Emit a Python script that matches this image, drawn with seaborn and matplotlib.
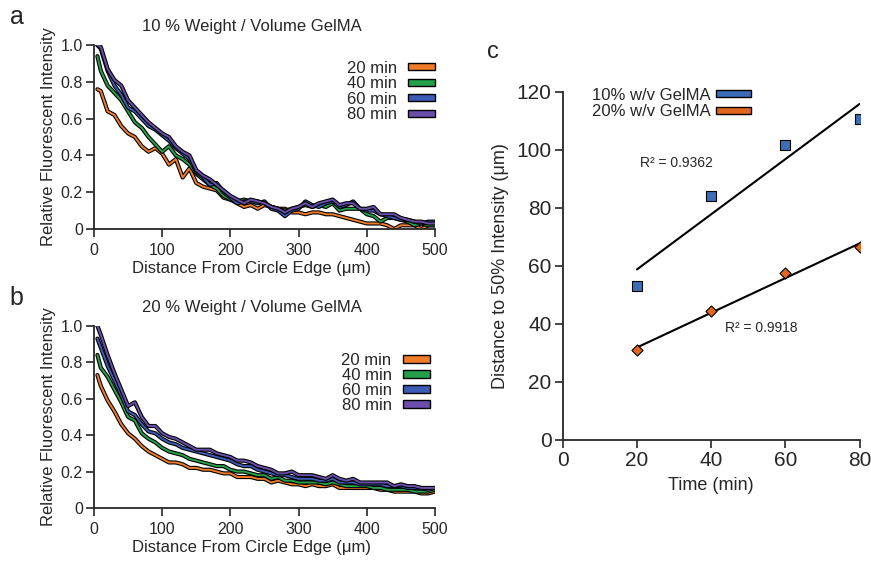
import numpy as np
import pandas as pd
import matplotlib
matplotlib.use("Agg")
import matplotlib.pyplot as plt
import matplotlib.patheffects as pe
from matplotlib.patches import Patch
import seaborn as sns

sns.set_style("ticks")
plt.rcParams['font.family'] = ['Liberation Sans', 'DejaVu Sans']

# distance from circle edge (um)
dist = [5] + list(range(10, 510, 10))
times = ["20 min", "40 min", "60 min", "80 min"]
line_colors = ["#F07C28", "#25A04A", "#3B5BB5", "#6A4FAA"]

# 10 % w/v GelMA
a_20 = [0.76, 0.75, 0.64, 0.62, 0.56, 0.52, 0.50, 0.45, 0.42, 0.44, 0.41, 0.35, 0.38, 0.28, 0.33,
        0.25, 0.23, 0.22, 0.21, 0.17, 0.16, 0.14, 0.12, 0.13, 0.11, 0.13, 0.12, 0.11, 0.11, 0.09,
        0.09, 0.08, 0.09, 0.09, 0.08, 0.08, 0.07, 0.06, 0.05, 0.04, 0.03, 0.03, 0.03, 0.02, 0.00,
        0.02, 0.02, 0.02, 0.00, 0.02, 0.02]
a_40 = [0.94, 0.86, 0.78, 0.74, 0.70, 0.64, 0.58, 0.55, 0.50, 0.46, 0.42, 0.45, 0.40, 0.38, 0.35,
        0.30, 0.27, 0.24, 0.22, 0.18, 0.16, 0.15, 0.16, 0.15, 0.15, 0.14, 0.12, 0.11, 0.10, 0.11,
        0.12, 0.13, 0.12, 0.13, 0.12, 0.14, 0.10, 0.11, 0.11, 0.11, 0.08, 0.07, 0.04, 0.06, 0.06,
        0.05, 0.04, 0.02, 0.03, 0.02, 0.02]
a_60 = [1.00, 0.98, 0.86, 0.78, 0.73, 0.66, 0.64, 0.60, 0.56, 0.54, 0.51, 0.48, 0.44, 0.41, 0.38,
        0.31, 0.28, 0.24, 0.25, 0.20, 0.17, 0.14, 0.15, 0.15, 0.14, 0.15, 0.11, 0.10, 0.07, 0.10,
        0.11, 0.15, 0.13, 0.12, 0.14, 0.15, 0.12, 0.13, 0.15, 0.11, 0.10, 0.10, 0.08, 0.07, 0.06,
        0.05, 0.05, 0.04, 0.03, 0.04, 0.04]
a_80 = [1.00, 0.99, 0.87, 0.81, 0.78, 0.70, 0.66, 0.62, 0.58, 0.55, 0.52, 0.50, 0.45, 0.42, 0.40,
        0.32, 0.29, 0.27, 0.24, 0.21, 0.18, 0.16, 0.14, 0.16, 0.15, 0.14, 0.12, 0.11, 0.09, 0.11,
        0.12, 0.14, 0.12, 0.14, 0.15, 0.16, 0.13, 0.14, 0.14, 0.11, 0.11, 0.12, 0.08, 0.08, 0.08,
        0.06, 0.05, 0.04, 0.04, 0.03, 0.03]

# 20 % w/v GelMA
b_20 = [0.73, 0.67, 0.59, 0.53, 0.46, 0.41, 0.38, 0.34, 0.31, 0.29, 0.27, 0.25, 0.25, 0.24, 0.22,
        0.22, 0.21, 0.21, 0.20, 0.19, 0.19, 0.17, 0.17, 0.17, 0.16, 0.16, 0.14, 0.15, 0.14, 0.13,
        0.13, 0.12, 0.13, 0.12, 0.12, 0.13, 0.11, 0.11, 0.11, 0.11, 0.11, 0.11, 0.10, 0.10, 0.09,
        0.09, 0.09, 0.09, 0.08, 0.08, 0.09]
b_40 = [0.84, 0.77, 0.72, 0.65, 0.58, 0.50, 0.48, 0.41, 0.38, 0.36, 0.33, 0.31, 0.30, 0.29, 0.27,
        0.26, 0.25, 0.24, 0.23, 0.23, 0.21, 0.20, 0.20, 0.19, 0.18, 0.18, 0.16, 0.17, 0.15, 0.15,
        0.14, 0.14, 0.14, 0.14, 0.13, 0.14, 0.13, 0.12, 0.12, 0.12, 0.12, 0.11, 0.11, 0.10, 0.10,
        0.10, 0.10, 0.09, 0.09, 0.09, 0.10]
b_60 = [0.93, 0.88, 0.78, 0.70, 0.62, 0.53, 0.51, 0.46, 0.42, 0.41, 0.38, 0.36, 0.35, 0.33, 0.32,
        0.31, 0.30, 0.29, 0.28, 0.27, 0.26, 0.24, 0.23, 0.23, 0.21, 0.20, 0.19, 0.18, 0.18, 0.17,
        0.16, 0.16, 0.16, 0.15, 0.15, 0.16, 0.14, 0.14, 0.14, 0.13, 0.13, 0.13, 0.13, 0.12, 0.12,
        0.12, 0.11, 0.11, 0.11, 0.10, 0.11]
b_80 = [1.00, 0.95, 0.84, 0.74, 0.65, 0.56, 0.58, 0.50, 0.45, 0.45, 0.41, 0.39, 0.38, 0.36, 0.34,
        0.32, 0.32, 0.32, 0.30, 0.29, 0.28, 0.26, 0.26, 0.25, 0.23, 0.22, 0.21, 0.19, 0.19, 0.20,
        0.18, 0.18, 0.18, 0.17, 0.16, 0.18, 0.16, 0.15, 0.16, 0.14, 0.14, 0.14, 0.14, 0.14, 0.12,
        0.13, 0.12, 0.12, 0.11, 0.11, 0.11]

# panel c
time_min = [20, 40, 60, 80]
d50_10 = [53, 84, 101.8, 110.5]
d50_20 = [31, 44.3, 57.5, 66.5]
r2_labels = ["R\u00b2 = 0.9362", "R\u00b2 = 0.9918"]


def profile_df(series):
    rows = []
    for t, vals in zip(times, series):
        for d, v in zip(dist, vals):
            rows.append({"dist": d, "val": v, "time": t})
    return pd.DataFrame(rows)


fig = plt.figure(figsize=(8.71, 5.64), dpi=100)
ax_a = fig.add_axes([0.1079, 0.594, 0.3915, 0.326])
ax_b = fig.add_axes([0.1079, 0.0993, 0.3915, 0.323])
ax_c = fig.add_axes([0.646, 0.220, 0.341, 0.617])

outline = [pe.Stroke(linewidth=3.0, foreground="black"), pe.Normal()]

panels = [(ax_a, [a_20, a_40, a_60, a_80], "10 % Weight / Volume GelMA", (1.0, 0.915), 0.03),
          (ax_b, [b_20, b_40, b_60, b_80], "20 % Weight / Volume GelMA", (0.985, 0.85), 0.0)]
for ax, series, title, leg_anchor, leg_sp in panels:
    df = profile_df(series)
    sns.lineplot(data=df, x="dist", y="val", hue="time", palette=line_colors,
                 linewidth=1.4, ax=ax, legend=False)
    for ln in ax.lines:
        ln.set_path_effects(outline)
    ax.set_xlim(0, 500)
    ax.set_ylim(0, 1.0)
    ax.set_xticks([0, 100, 200, 300, 400, 500])
    ax.set_yticks([0, 0.2, 0.4, 0.6, 0.8, 1.0])
    ax.set_yticklabels(["0", "0.2", "0.4", "0.6", "0.8", "1.0"])
    ax.set_xlabel("Distance From Circle Edge (\u03bcm)", fontsize=12, labelpad=2)
    ax.xaxis.label.set_x(0.463)
    ax.set_ylabel("Relative Fluorescent Intensity", fontsize=12, labelpad=3)
    ax.set_title(title, fontsize=12, pad=10, x=0.463)
    ax.tick_params(axis="x", labelsize=11.5, length=6, width=1.2, pad=4)
    ax.tick_params(axis="y", labelsize=11.5, length=6, width=1.2, pad=2)
    for s in ["left", "bottom"]:
        ax.spines[s].set_linewidth(1.3)
    sns.despine(ax=ax)
    handles = [Patch(facecolor=c, edgecolor="black", linewidth=1.0) for c in line_colors]
    ax.legend(handles, times, loc="upper right", frameon=False, markerfirst=False,
              fontsize=12, handlelength=1.6, handleheight=0.3, labelspacing=leg_sp,
              handletextpad=0.7, borderaxespad=0.0, borderpad=0.0,
              bbox_to_anchor=leg_anchor)

# panel c
c_blue = "#3B6DB8"
c_orange = "#E2671E"
sns.regplot(x=time_min, y=d50_10, ci=None, ax=ax_c, marker="s",
            scatter_kws={"color": c_blue, "edgecolor": "black", "s": 60, "linewidths": 0.8,
                         "alpha": 1, "zorder": 3},
            line_kws={"color": "black", "linewidth": 1.5})
sns.regplot(x=time_min, y=d50_20, ci=None, ax=ax_c, marker="D",
            scatter_kws={"color": c_orange, "edgecolor": "black", "s": 32, "linewidths": 0.8,
                         "alpha": 1, "zorder": 3},
            line_kws={"color": "black", "linewidth": 1.5})
ax_c.set_xlim(0, 80)
ax_c.set_ylim(0, 120)
ax_c.set_xticks([0, 20, 40, 60, 80])
ax_c.set_yticks([0, 20, 40, 60, 80, 100, 120])
ax_c.set_xlabel("Time (min)", fontsize=13, labelpad=5)
ax_c.set_ylabel("Distance to 50% Intensity (\u03bcm)", fontsize=13, labelpad=5)
ax_c.tick_params(labelsize=15, length=6, width=1.2, pad=2)
for s in ["left", "bottom"]:
    ax_c.spines[s].set_linewidth(1.3)
sns.despine(ax=ax_c)
ax_c.text(20.7, 95.5, r2_labels[0], fontsize=10, va="center")
ax_c.text(43.8, 38.6, r2_labels[1], fontsize=10, va="center")
c_handles = [Patch(facecolor=c_blue, edgecolor="black", linewidth=1.0),
             Patch(facecolor=c_orange, edgecolor="black", linewidth=1.0)]
ax_c.legend(c_handles, ["10% w/v GelMA", "20% w/v GelMA"], loc="upper left",
            bbox_to_anchor=(0.098, 1.012), frameon=False, markerfirst=False, fontsize=12,
            handlelength=2.1, handleheight=0.3, labelspacing=0.1, handletextpad=0.3,
            borderpad=0.0, borderaxespad=0.0)

fig.text(0.011, 0.957, "a", fontsize=18)
fig.text(0.011, 0.46, "b", fontsize=18)
fig.text(0.559, 0.897, "c", fontsize=17)

fig.savefig("out.png", dpi=100)
